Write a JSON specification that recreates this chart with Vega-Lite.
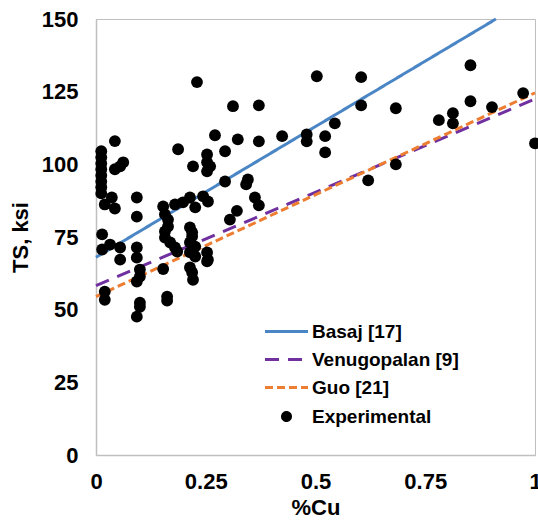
{
  "$schema": "https://vega.github.io/schema/vega-lite/v6.json",
  "width": 439,
  "height": 436,
  "autosize": "none",
  "padding": {"left": 96, "top": 19, "right": 3, "bottom": 69},
  "background": "white",
  "config": {
    "font": "Liberation Sans",
    "view": {"stroke": "#BFBFBF", "strokeWidth": 1},
    "axis": {
      "labelFont": "Liberation Sans", "labelFontSize": 22, "labelFontWeight": "bold", "labelColor": "#000000",
      "titleFont": "Liberation Sans", "titleFontSize": 22, "titleFontWeight": "bold", "titleColor": "#000000",
      "grid": false, "domainColor": "#BFBFBF", "domainWidth": 1.5, "ticks": false, "tickSize": 0,
      "labelFlush": false, "labelOverlap": false
    }
  },
  "datasets": {
    "models": [
      {"series": "Basaj [17]", "cu": 0, "ts": 68},
      {"series": "Basaj [17]", "cu": 0.911, "ts": 150},
      {"series": "Venugopalan [9]", "cu": 0, "ts": 58.3},
      {"series": "Venugopalan [9]", "cu": 1, "ts": 122.5},
      {"series": "Guo [21]", "cu": 0, "ts": 54.5},
      {"series": "Guo [21]", "cu": 1, "ts": 124.6}
    ],
    "experimental": [
      {"series": "Experimental", "cu": 0.012, "ts": 104.5},
      {"series": "Experimental", "cu": 0.012, "ts": 102.4},
      {"series": "Experimental", "cu": 0.012, "ts": 100.3},
      {"series": "Experimental", "cu": 0.012, "ts": 98.3},
      {"series": "Experimental", "cu": 0.012, "ts": 96.2},
      {"series": "Experimental", "cu": 0.012, "ts": 94.1},
      {"series": "Experimental", "cu": 0.012, "ts": 92.1},
      {"series": "Experimental", "cu": 0.012, "ts": 90.0},
      {"series": "Experimental", "cu": 0.014, "ts": 75.9},
      {"series": "Experimental", "cu": 0.014, "ts": 70.7},
      {"series": "Experimental", "cu": 0.02, "ts": 86.2},
      {"series": "Experimental", "cu": 0.02, "ts": 56.2},
      {"series": "Experimental", "cu": 0.02, "ts": 53.4},
      {"series": "Experimental", "cu": 0.032, "ts": 72.4},
      {"series": "Experimental", "cu": 0.036, "ts": 88.6},
      {"series": "Experimental", "cu": 0.043, "ts": 108},
      {"series": "Experimental", "cu": 0.043, "ts": 98.3},
      {"series": "Experimental", "cu": 0.043, "ts": 84.8},
      {"series": "Experimental", "cu": 0.055, "ts": 99.3},
      {"series": "Experimental", "cu": 0.055, "ts": 71.4},
      {"series": "Experimental", "cu": 0.055, "ts": 67.2},
      {"series": "Experimental", "cu": 0.062, "ts": 100.7},
      {"series": "Experimental", "cu": 0.093, "ts": 88.6},
      {"series": "Experimental", "cu": 0.093, "ts": 82},
      {"series": "Experimental", "cu": 0.093, "ts": 71.4},
      {"series": "Experimental", "cu": 0.093, "ts": 67.9},
      {"series": "Experimental", "cu": 0.093, "ts": 59.7},
      {"series": "Experimental", "cu": 0.093, "ts": 47.6},
      {"series": "Experimental", "cu": 0.1, "ts": 63.8},
      {"series": "Experimental", "cu": 0.1, "ts": 61.4},
      {"series": "Experimental", "cu": 0.1, "ts": 52.4},
      {"series": "Experimental", "cu": 0.1, "ts": 51},
      {"series": "Experimental", "cu": 0.153, "ts": 64},
      {"series": "Experimental", "cu": 0.153, "ts": 85.5},
      {"series": "Experimental", "cu": 0.157, "ts": 82.8},
      {"series": "Experimental", "cu": 0.157, "ts": 76.9},
      {"series": "Experimental", "cu": 0.157, "ts": 74.8},
      {"series": "Experimental", "cu": 0.162, "ts": 54.5},
      {"series": "Experimental", "cu": 0.162, "ts": 53.1},
      {"series": "Experimental", "cu": 0.164, "ts": 81},
      {"series": "Experimental", "cu": 0.164, "ts": 78.6},
      {"series": "Experimental", "cu": 0.169, "ts": 73.1},
      {"series": "Experimental", "cu": 0.18, "ts": 71.4},
      {"series": "Experimental", "cu": 0.18, "ts": 86.2},
      {"series": "Experimental", "cu": 0.185, "ts": 70},
      {"series": "Experimental", "cu": 0.187, "ts": 105.2},
      {"series": "Experimental", "cu": 0.198, "ts": 86.9},
      {"series": "Experimental", "cu": 0.214, "ts": 88.6},
      {"series": "Experimental", "cu": 0.214, "ts": 78.3},
      {"series": "Experimental", "cu": 0.214, "ts": 73.1},
      {"series": "Experimental", "cu": 0.214, "ts": 69.7},
      {"series": "Experimental", "cu": 0.214, "ts": 64.5},
      {"series": "Experimental", "cu": 0.219, "ts": 76.6},
      {"series": "Experimental", "cu": 0.219, "ts": 75.2},
      {"series": "Experimental", "cu": 0.219, "ts": 62.8},
      {"series": "Experimental", "cu": 0.221, "ts": 99.3},
      {"series": "Experimental", "cu": 0.221, "ts": 70.7},
      {"series": "Experimental", "cu": 0.221, "ts": 60.3},
      {"series": "Experimental", "cu": 0.226, "ts": 85.2},
      {"series": "Experimental", "cu": 0.226, "ts": 71.7},
      {"series": "Experimental", "cu": 0.226, "ts": 68.3},
      {"series": "Experimental", "cu": 0.23, "ts": 128.3},
      {"series": "Experimental", "cu": 0.244, "ts": 89},
      {"series": "Experimental", "cu": 0.253, "ts": 69.7},
      {"series": "Experimental", "cu": 0.253, "ts": 66.6},
      {"series": "Experimental", "cu": 0.253, "ts": 103.4},
      {"series": "Experimental", "cu": 0.253, "ts": 100.7},
      {"series": "Experimental", "cu": 0.253, "ts": 97.6},
      {"series": "Experimental", "cu": 0.255, "ts": 87.2},
      {"series": "Experimental", "cu": 0.255, "ts": 67.2},
      {"series": "Experimental", "cu": 0.26, "ts": 99.3},
      {"series": "Experimental", "cu": 0.271, "ts": 110},
      {"series": "Experimental", "cu": 0.294, "ts": 104.5},
      {"series": "Experimental", "cu": 0.294, "ts": 94.1},
      {"series": "Experimental", "cu": 0.305, "ts": 81},
      {"series": "Experimental", "cu": 0.312, "ts": 120},
      {"series": "Experimental", "cu": 0.321, "ts": 84},
      {"series": "Experimental", "cu": 0.323, "ts": 108.6},
      {"series": "Experimental", "cu": 0.342, "ts": 93.1},
      {"series": "Experimental", "cu": 0.346, "ts": 94.8},
      {"series": "Experimental", "cu": 0.362, "ts": 88.6},
      {"series": "Experimental", "cu": 0.371, "ts": 120.3},
      {"series": "Experimental", "cu": 0.371, "ts": 107.9},
      {"series": "Experimental", "cu": 0.371, "ts": 85.9},
      {"series": "Experimental", "cu": 0.424, "ts": 109.7},
      {"series": "Experimental", "cu": 0.48, "ts": 110.3},
      {"series": "Experimental", "cu": 0.48, "ts": 107.9},
      {"series": "Experimental", "cu": 0.503, "ts": 130.3},
      {"series": "Experimental", "cu": 0.522, "ts": 109.7},
      {"series": "Experimental", "cu": 0.522, "ts": 104.1},
      {"series": "Experimental", "cu": 0.544, "ts": 114.1},
      {"series": "Experimental", "cu": 0.604, "ts": 130},
      {"series": "Experimental", "cu": 0.604, "ts": 120.3},
      {"series": "Experimental", "cu": 0.62, "ts": 94.5},
      {"series": "Experimental", "cu": 0.683, "ts": 119.3},
      {"series": "Experimental", "cu": 0.683, "ts": 100},
      {"series": "Experimental", "cu": 0.781, "ts": 115.2},
      {"series": "Experimental", "cu": 0.813, "ts": 117.6},
      {"series": "Experimental", "cu": 0.813, "ts": 114.1},
      {"series": "Experimental", "cu": 0.853, "ts": 134.1},
      {"series": "Experimental", "cu": 0.853, "ts": 121.7},
      {"series": "Experimental", "cu": 0.902, "ts": 119.7},
      {"series": "Experimental", "cu": 0.973, "ts": 124.5},
      {"series": "Experimental", "cu": 1.0, "ts": 107.2}
    ]
  },
  "encoding": {
    "x": {
      "field": "cu", "type": "quantitative",
      "scale": {"domain": [0, 1], "nice": false},
      "axis": {"title": "%Cu", "values": [0, 0.25, 0.5, 0.75, 1], "format": ".2~f", "labelPadding": 16, "titlePadding": 5}
    },
    "y": {
      "field": "ts", "type": "quantitative",
      "scale": {"domain": [0, 150], "nice": false},
      "axis": {"title": "TS, ksi", "values": [0, 25, 50, 75, 100, 125, 150], "labelPadding": 18, "titlePadding": 9}
    }
  },
  "layer": [
    {
      "data": {"name": "models"},
      "mark": {"type": "line", "strokeWidth": 3},
      "encoding": {
        "color": {
          "field": "series", "type": "nominal",
          "scale": {"domain": ["Basaj [17]", "Venugopalan [9]", "Guo [21]", "Experimental"], "range": ["#4A86C5", "#7030A0", "#ED7D31", "#000000"]},
          "legend": {
            "title": null, "orient": "none", "legendX": 169, "legendY": 303, "padding": 0,
            "labelFont": "Liberation Sans", "labelFontSize": 19, "labelFontWeight": "bold", "labelColor": "#000000",
            "rowPadding": 8, "symbolSize": 64, "symbolStrokeWidth": 3, "labelLimit": 300,
            "encode": {
              "symbols": {"update": {
                "shape": {"signal": "datum.value === 'Experimental' ? 'circle' : 'M-5.375,0H5.375'"},
                "fill": {"signal": "datum.value === 'Experimental' ? '#000000' : 'transparent'"},
                "stroke": {"signal": "scale('color', datum.value)"},
                "strokeDash": {"signal": "datum.value === 'Venugopalan [9]' ? [14,9] : (datum.value === 'Guo [21]' ? [8,4] : [1,0])"},
                "x": {"value": 21.5},
                "opacity": {"value": 1}
              }},
              "labels": {"update": {"x": {"value": 47}}}
            }
          }
        },
        "strokeDash": {
          "field": "series", "type": "nominal",
          "scale": {"domain": ["Basaj [17]", "Venugopalan [9]", "Guo [21]"], "range": [[1, 0], [14, 9], [8, 4]]},
          "legend": null
        }
      }
    },
    {
      "data": {"name": "experimental"},
      "mark": {"type": "point", "filled": true, "size": 140, "opacity": 1, "shape": "circle"},
      "encoding": {
        "color": {"field": "series", "type": "nominal"}
      }
    },
    {
      "mark": {"type": "rule", "color": "#000000", "strokeWidth": 1.5},
      "encoding": {"x": {"datum": 1}, "y": null}
    }
  ]
}
